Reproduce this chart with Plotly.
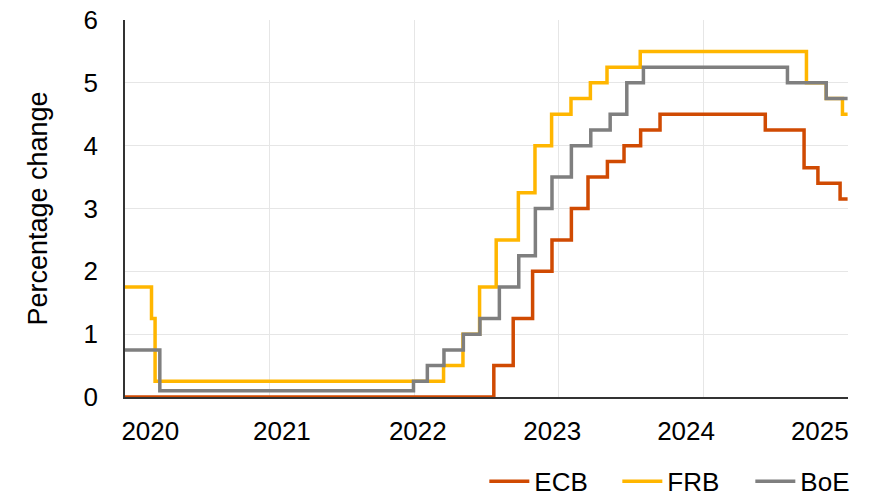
import plotly.graph_objects as go

# ---- data (policy rate step dates and levels, %) ----
ecb_dates = ["2020-01-01", "2022-07-21", "2022-09-08", "2022-10-27", "2022-12-15",
             "2023-02-02", "2023-03-16", "2023-05-04", "2023-06-15", "2023-07-27",
             "2023-09-14", "2024-06-06", "2024-09-12", "2024-10-17", "2024-12-12",
             "2024-12-31"]
ecb_rates = [0.0, 0.5, 1.25, 2.0, 2.5, 3.0, 3.5, 3.75, 4.0, 4.25,
             4.5, 4.25, 3.65, 3.40, 3.15, 3.15]

frb_dates = ["2020-01-01", "2020-03-08", "2020-03-17", "2022-03-16", "2022-05-04",
             "2022-06-15", "2022-07-27", "2022-09-21", "2022-11-02", "2022-12-14",
             "2023-02-01", "2023-03-22", "2023-05-03", "2023-07-26", "2024-09-18",
             "2024-11-07", "2024-12-18", "2024-12-31"]
frb_rates = [1.75, 1.25, 0.25, 0.5, 1.0, 1.75, 2.5, 3.25, 4.0, 4.5,
             4.75, 5.0, 5.25, 5.5, 5.0, 4.75, 4.5, 4.5]

boe_dates = ["2020-01-01", "2020-03-29", "2021-12-30", "2022-02-03", "2022-03-17",
             "2022-05-05", "2022-06-16", "2022-08-04", "2022-09-22", "2022-11-03",
             "2022-12-15", "2023-02-02", "2023-03-23", "2023-05-11", "2023-06-22",
             "2023-08-03", "2024-08-01", "2024-11-07", "2024-12-31"]
boe_rates = [0.75, 0.1, 0.25, 0.5, 0.75, 1.0, 1.25, 1.75, 2.25, 3.0,
             3.5, 4.0, 4.25, 4.5, 5.0, 5.25, 5.0, 4.75, 4.75]

year_labels = ["2020", "2021", "2022", "2023", "2024", "2025"]
year_label_pos = [0.035, 0.217, 0.405, 0.591, 0.776, 0.961]  # fractions of axis width
y_ticks = [0, 1, 2, 3, 4, 5, 6]

series = [
    ("ECB", ecb_dates, ecb_rates, "#D04A02"),
    ("FRB", frb_dates, frb_rates, "#FFB600"),
    ("BoE", boe_dates, boe_rates, "#7F7F7F"),
]

FONT = "Liberation Sans, Arial, Helvetica, sans-serif"

fig = go.Figure()
for name, xs, ys, col in series:
    fig.add_trace(go.Scatter(x=xs, y=ys, name=name, mode="lines",
                             line=dict(shape="hv", color=col, width=3.5)))

# empty trace to host the label axis
fig.add_trace(go.Scatter(x=[], y=[], xaxis="x2", yaxis="y", showlegend=False,
                         hoverinfo="skip"))

fig.update_layout(
    width=880, height=499,
    margin=dict(l=125, r=32, t=20, b=102, autoexpand=False),
    paper_bgcolor="white", plot_bgcolor="white",
    font=dict(family=FONT, size=26, color="black"),
    xaxis=dict(type="date", range=["2020-01-01", "2025-01-01"],
               tick0="2020-01-01", dtick="M12", automargin=False,
               showgrid=True, gridcolor="#e6e6e6", gridwidth=1,
               showticklabels=False, ticks="",
               showline=True, linecolor="#333333", linewidth=1.5,
               layer="below traces", zeroline=False),
    xaxis2=dict(overlaying="x", anchor="y", side="bottom", range=[0, 1],
                tickmode="array", tickvals=year_label_pos, ticktext=year_labels,
                showgrid=False, showline=False, zeroline=False, ticks="",
                automargin=False, ticklabelstandoff=16,
                tickfont=dict(family=FONT, size=26, color="black")),
    yaxis=dict(range=[0, 6], tickmode="array", tickvals=y_ticks, automargin=False,
               showgrid=True, gridcolor="#e6e6e6", gridwidth=1,
               showline=True, linecolor="#333333", linewidth=1.5,
               layer="below traces", zeroline=False, ticks="",
               ticklabelstandoff=20,
               tickfont=dict(family=FONT, size=26, color="black"),
               title=dict(text="Percentage change", standoff=28,
                          font=dict(family=FONT, size=27, color="black"))),
    legend=dict(orientation="h", x=0.497, xanchor="left", y=-0.224, yanchor="middle",
                font=dict(family=FONT, size=26, color="black"),
                itemwidth=40, entrywidth=78, entrywidthmode="pixels",
                bgcolor="rgba(0,0,0,0)"),
    showlegend=True,
)

fig.write_html("out.html",
               config={"displayModeBar": False},
               post_script="document.body.style.margin='0';document.body.style.overflow='hidden';")
